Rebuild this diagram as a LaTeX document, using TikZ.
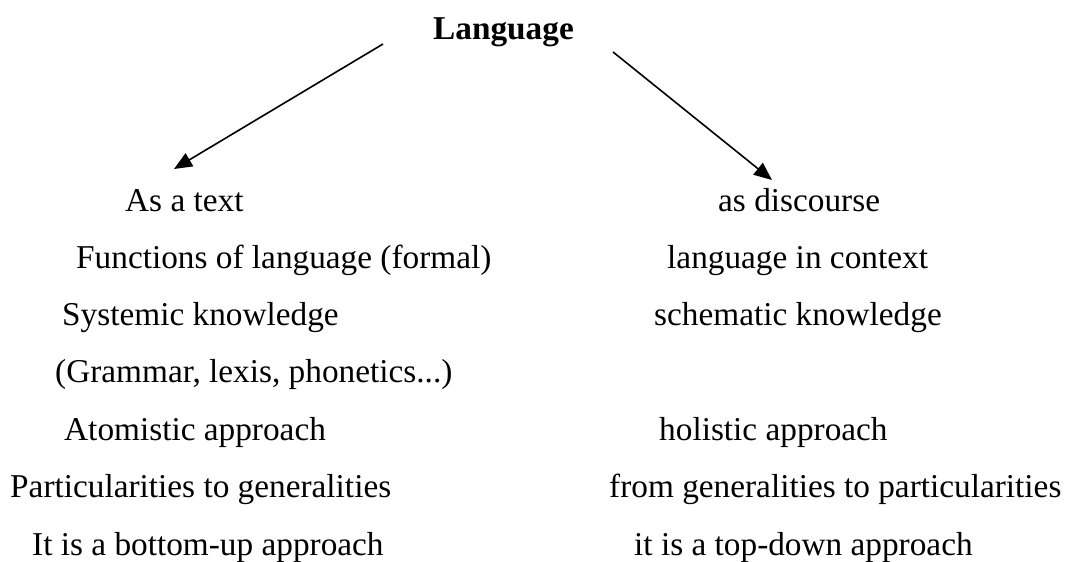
\documentclass[tikz,border=0pt]{standalone}
\usepackage{fontspec}
\setmainfont{Liberation Serif}
\usetikzlibrary{arrows.meta}
\begin{document}
\begin{tikzpicture}[x=1pt,y=-1pt,
  txt/.style={anchor=base west, inner sep=0pt, font=\fontsize{33.3}{40}\selectfont},
  arr/.style={-{Triangle[length=18pt,width=15pt]}, line width=1.6pt}]
\useasboundingbox (0,0) rectangle (1068,562);
\node[txt, font=\fontsize{33.3}{40}\selectfont\bfseries] (lang) at (433,39) {Language};
% left column
\node[txt] (atext) at (125,211) {As a text};
\node[txt] (lfun) at (76,268) {Functions of language (formal)};
\node[txt] (lsys) at (62,325) {Systemic knowledge};
\node[txt] (lgram) at (55,382) {(Grammar, lexis, phonetics...)};
\node[txt] (latom) at (64,440) {Atomistic approach};
\node[txt] (lpart) at (10,497) {Particularities to generalities};
\node[txt] (lbot) at (32,555) {It is a bottom-up approach};
% right column
\node[txt] (disc) at (718,211) {as discourse};
\node[txt] (rctx) at (667,268) {language in context};
\node[txt] (rsch) at (654,325) {schematic knowledge};
\node[txt] (rhol) at (659,440) {holistic approach};
\node[txt] (rgen) at (609,497) {from generalities to particularities};
\node[txt] (rtop) at (634,555) {it is a top-down approach};
% arrows
\coordinate (lfrom) at ([shift={(-50,5)}]lang.base west);
\coordinate (lto) at ([shift={(49,-42)}]atext.base west);
\coordinate (rfrom) at ([shift={(39,13)}]lang.base east);
\coordinate (rto) at ([shift={(54,-31)}]disc.base west);
\draw[arr] (lfrom) -- (lto);
\draw[arr] (rfrom) -- (rto);
\end{tikzpicture}
\end{document}
